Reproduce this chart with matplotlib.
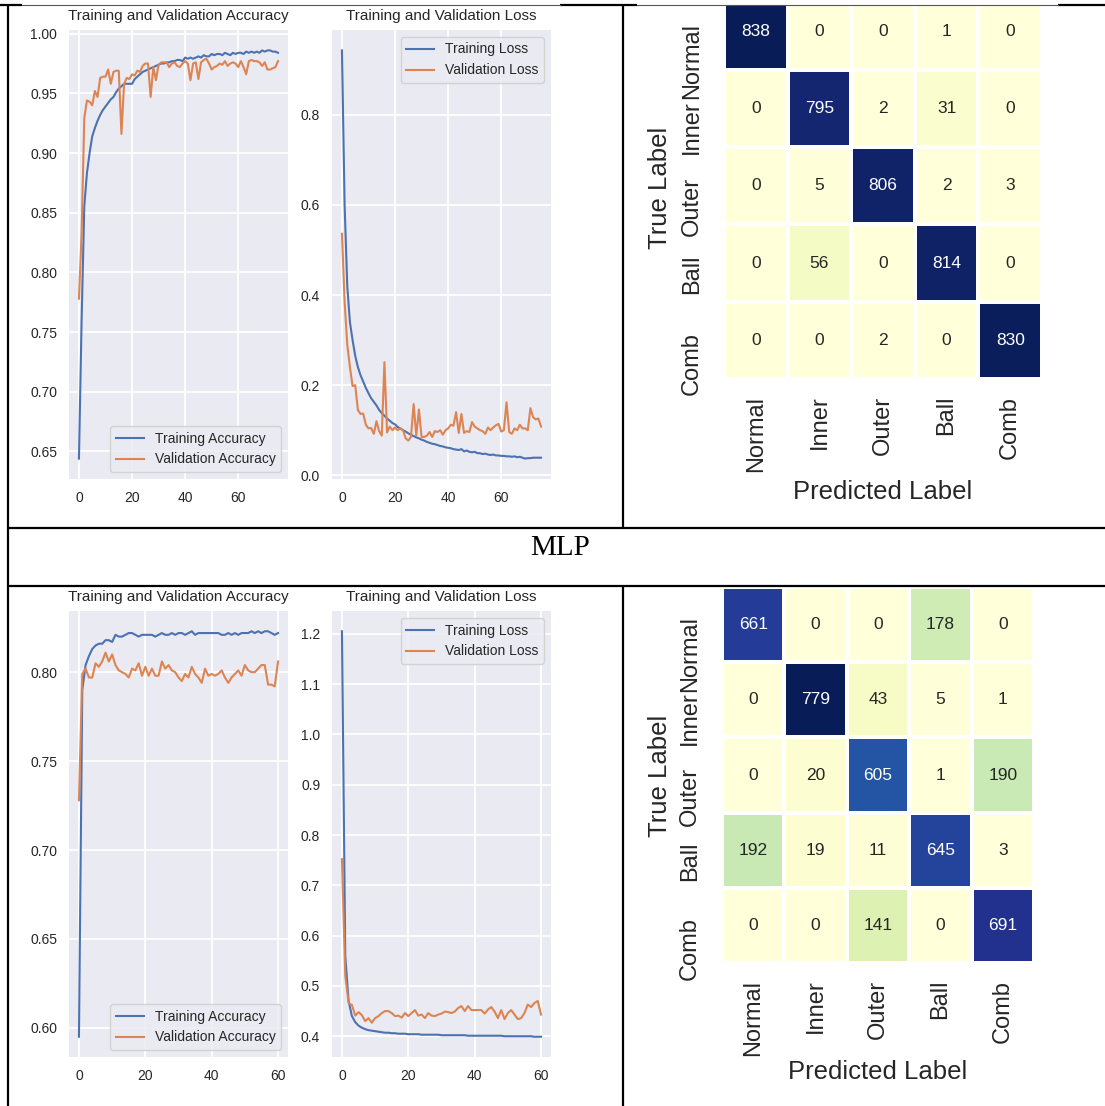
import numpy as np
import matplotlib
matplotlib.use("Agg")
import matplotlib.pyplot as plt
from matplotlib.ticker import MultipleLocator
from matplotlib import colors as mcolors
from matplotlib.patches import Rectangle

# ---------------- data ----------------
class_labels = ["Normal", "Inner", "Outer", "Ball", "Comb"]

top_train_acc = [0.644, 0.760, 0.855, 0.883, 0.900, 0.914, 0.921, 0.927, 0.932, 0.936,
                 0.939, 0.942, 0.945, 0.947, 0.951, 0.954, 0.956, 0.958, 0.958, 0.958,
                 0.958, 0.962, 0.964, 0.966, 0.968, 0.969, 0.970, 0.971, 0.972, 0.973,
                 0.974, 0.975, 0.975, 0.976, 0.976, 0.977, 0.977, 0.978, 0.978, 0.977,
                 0.980, 0.979, 0.980, 0.979, 0.980, 0.981, 0.980, 0.982, 0.981, 0.981,
                 0.983, 0.982, 0.983, 0.983, 0.982, 0.984, 0.983, 0.982, 0.984, 0.983,
                 0.984, 0.984, 0.983, 0.985, 0.984, 0.985, 0.984, 0.985, 0.984, 0.986,
                 0.985, 0.986, 0.986, 0.985, 0.985, 0.984]
top_val_acc = [0.778, 0.833, 0.929, 0.944, 0.943, 0.940, 0.952, 0.947, 0.963, 0.964,
               0.964, 0.970, 0.958, 0.968, 0.969, 0.969, 0.916, 0.958, 0.963, 0.962,
               0.966, 0.965, 0.969, 0.968, 0.973, 0.975, 0.975, 0.947, 0.972, 0.961,
               0.974, 0.976, 0.976, 0.976, 0.972, 0.975, 0.976, 0.973, 0.972, 0.975,
               0.977, 0.975, 0.961, 0.975, 0.976, 0.962, 0.976, 0.978, 0.979, 0.975,
               0.970, 0.972, 0.973, 0.975, 0.974, 0.977, 0.973, 0.975, 0.976, 0.975,
               0.972, 0.977, 0.972, 0.966, 0.977, 0.978, 0.977, 0.977, 0.976, 0.973,
               0.976, 0.970, 0.970, 0.971, 0.972, 0.977]
top_train_loss = [0.943, 0.600, 0.420, 0.340, 0.300, 0.265, 0.240, 0.222, 0.208, 0.194,
                  0.182, 0.171, 0.163, 0.155, 0.145, 0.138, 0.132, 0.126, 0.121, 0.116,
                  0.113, 0.107, 0.104, 0.100, 0.097, 0.093, 0.090, 0.087, 0.084, 0.082,
                  0.079, 0.077, 0.074, 0.072, 0.070, 0.069, 0.067, 0.065, 0.064, 0.062,
                  0.061, 0.060, 0.058, 0.057, 0.056, 0.058, 0.053, 0.055, 0.052, 0.051,
                  0.052, 0.049, 0.049, 0.047, 0.048, 0.046, 0.045, 0.046, 0.044, 0.044,
                  0.043, 0.043, 0.042, 0.042, 0.041, 0.042, 0.040, 0.041, 0.039, 0.037,
                  0.038, 0.038, 0.039, 0.039, 0.039, 0.039]
top_val_loss = [0.536, 0.385, 0.290, 0.240, 0.198, 0.200, 0.145, 0.136, 0.137, 0.112,
                0.104, 0.105, 0.092, 0.120, 0.098, 0.088, 0.251, 0.095, 0.108, 0.100,
                0.106, 0.100, 0.104, 0.100, 0.082, 0.077, 0.085, 0.158, 0.088, 0.146,
                0.085, 0.085, 0.088, 0.096, 0.085, 0.098, 0.096, 0.100, 0.090, 0.100,
                0.104, 0.112, 0.110, 0.140, 0.094, 0.136, 0.094, 0.098, 0.096, 0.118,
                0.108, 0.104, 0.100, 0.098, 0.092, 0.106, 0.100, 0.106, 0.111, 0.114,
                0.097, 0.100, 0.162, 0.096, 0.092, 0.104, 0.100, 0.112, 0.104, 0.104,
                0.100, 0.149, 0.129, 0.124, 0.126, 0.108]
top_cm = [[838, 0, 0, 1, 0],
          [0, 795, 2, 31, 0],
          [0, 5, 806, 2, 3],
          [0, 56, 0, 814, 0],
          [0, 0, 2, 0, 830]]

mlp_train_acc = [0.595, 0.790, 0.804, 0.809, 0.813, 0.815, 0.816, 0.816, 0.818, 0.818,
                 0.817, 0.821, 0.820, 0.820, 0.821, 0.822, 0.822, 0.821, 0.820, 0.821,
                 0.821, 0.821, 0.821, 0.820, 0.821, 0.822, 0.821, 0.821, 0.822, 0.821,
                 0.822, 0.822, 0.821, 0.822, 0.823, 0.821, 0.822, 0.822, 0.822, 0.822,
                 0.822, 0.822, 0.822, 0.821, 0.821, 0.822, 0.821, 0.822, 0.821, 0.822,
                 0.822, 0.822, 0.823, 0.822, 0.823, 0.822, 0.823, 0.823, 0.822, 0.821,
                 0.822]
mlp_val_acc = [0.728, 0.799, 0.802, 0.797, 0.797, 0.805, 0.803, 0.806, 0.811, 0.806,
               0.810, 0.804, 0.801, 0.800, 0.799, 0.797, 0.802, 0.801, 0.805, 0.798,
               0.803, 0.798, 0.802, 0.798, 0.798, 0.806, 0.802, 0.804, 0.801, 0.800,
               0.797, 0.795, 0.799, 0.797, 0.803, 0.799, 0.797, 0.794, 0.802, 0.798,
               0.799, 0.798, 0.799, 0.801, 0.797, 0.794, 0.797, 0.799, 0.801, 0.798,
               0.804, 0.801, 0.800, 0.800, 0.802, 0.804, 0.804, 0.793, 0.793, 0.792,
               0.806]
mlp_train_loss = [1.205, 0.560, 0.470, 0.440, 0.428, 0.421, 0.417, 0.414, 0.412, 0.411,
                  0.410, 0.409, 0.408, 0.407, 0.407, 0.406, 0.406, 0.405, 0.405, 0.405,
                  0.404, 0.404, 0.404, 0.404, 0.403, 0.403, 0.403, 0.403, 0.403, 0.403,
                  0.402, 0.402, 0.402, 0.402, 0.402, 0.402, 0.402, 0.402, 0.401, 0.401,
                  0.401, 0.401, 0.401, 0.401, 0.401, 0.401, 0.401, 0.401, 0.401, 0.400,
                  0.400, 0.400, 0.400, 0.400, 0.400, 0.400, 0.400, 0.400, 0.399, 0.399,
                  0.399]
mlp_val_loss = [0.752, 0.520, 0.466, 0.462, 0.441, 0.448, 0.442, 0.430, 0.436, 0.427,
                0.436, 0.440, 0.446, 0.450, 0.450, 0.446, 0.440, 0.441, 0.437, 0.446,
                0.440, 0.446, 0.452, 0.441, 0.443, 0.436, 0.446, 0.441, 0.440, 0.443,
                0.445, 0.449, 0.448, 0.446, 0.449, 0.456, 0.460, 0.450, 0.460, 0.452,
                0.452, 0.452, 0.452, 0.445, 0.453, 0.458, 0.449, 0.436, 0.452, 0.434,
                0.446, 0.452, 0.443, 0.434, 0.436, 0.446, 0.463, 0.458, 0.466, 0.470,
                0.443]
mlp_cm = [[661, 0, 0, 178, 0],
          [0, 779, 43, 5, 1],
          [0, 20, 605, 1, 190],
          [192, 19, 11, 645, 3],
          [0, 0, 141, 0, 691]]

section_title = "MLP"

# ---------------- figure ----------------
plt.rcParams['font.family'] = ['Liberation Sans', 'DejaVu Sans']
W, H = 1105, 1106
fig = plt.figure(figsize=(W / 100, H / 100), dpi=100)
fig.patch.set_facecolor('white')

BLUE = '#4C72B0'
ORANGE = '#DD8452'
BG = '#EAEAF2'
TXT = '#262626'


def add_ax(l, t, r, b, **kw):
    return fig.add_axes([l / W, 1 - b / H, (r - l) / W, (b - t) / H], **kw)


def line_panel(ax, a, b, la, lb, title, loc, ystep):
    x = np.arange(len(a))
    ax.set_facecolor(BG)
    for s in ax.spines.values():
        s.set_visible(False)
    ax.grid(True, color='white', lw=1.3)
    ax.set_axisbelow(True)
    ax.plot(x, a, color=BLUE, lw=1.5, label=la)
    ax.plot(x, b, color=ORANGE, lw=1.5, label=lb)
    ax.xaxis.set_major_locator(MultipleLocator(20))
    ax.yaxis.set_major_locator(MultipleLocator(ystep))
    ax.tick_params(length=0, labelsize=10, colors=TXT, pad=8.5)
    ax.set_title(title, fontsize=11, color=TXT, pad=7)
    leg = ax.legend(loc=loc, fontsize=10, frameon=True, facecolor=BG,
                    edgecolor='#CCCCCC', framealpha=0.8)
    for t in leg.get_texts():
        t.set_color(TXT)


def rel_lum(rgba):
    rgb = np.array(rgba[:3])
    rgb = np.where(rgb <= 0.03928, rgb / 12.92, ((rgb + 0.055) / 1.055) ** 2.4)
    return rgb.dot([0.2126, 0.7152, 0.0722])


def cm_panel(ax, cm, labels):
    cm = np.array(cm)
    n = cm.shape[0]
    cmap = plt.get_cmap('YlGnBu')
    norm = mcolors.Normalize(vmin=cm.min(), vmax=cm.max())
    ax.pcolormesh(np.arange(n + 1), np.arange(n + 1), cm, cmap=cmap, norm=norm,
                  edgecolors='white', linewidth=1.5)
    ax.set_xlim(0, n)
    ax.set_ylim(n, 0)
    for i in range(n):
        for j in range(n):
            c = cmap(norm(cm[i, j]))
            tc = TXT if rel_lum(c) > 0.408 else 'white'
            ax.text(j + 0.5, i + 0.5, str(cm[i, j]), ha='center', va='center',
                    fontsize=12.5, color=tc)
    ax.set_xticks(np.arange(n) + 0.5)
    ax.set_xticklabels(labels, rotation=90, fontsize=17, color=TXT)
    ax.set_yticks(np.arange(n) + 0.5)
    ax.set_yticklabels(labels, rotation=90, fontsize=17, color=TXT)
    ax.tick_params(axis='x', length=0, pad=12)
    ax.tick_params(axis='y', length=0, pad=15)
    for s in ax.spines.values():
        s.set_visible(False)


# top row
ax1 = add_ax(69, 30, 288, 479)
line_panel(ax1, top_train_acc, top_val_acc, 'Training Accuracy', 'Validation Accuracy',
           'Training and Validation Accuracy', 'lower right', 0.05)
ax2 = add_ax(332, 30, 551, 479)
line_panel(ax2, top_train_loss, top_val_loss, 'Training Loss', 'Validation Loss',
           'Training and Validation Loss', 'upper right', 0.2)
ax3 = add_ax(724, -7.5, 1042, 379)
cm_panel(ax3, top_cm, class_labels)
fig.text(660 / W, 1 - 188 / H, 'True Label', rotation=90, ha='center', va='center',
         fontsize=18.5, color=TXT)
fig.text(883 / W, 1 - 492 / H, 'Predicted Label', ha='center', va='center',
         fontsize=18.5, color=TXT)

# bottom row
ax4 = add_ax(69, 611, 288, 1057)
line_panel(ax4, mlp_train_acc, mlp_val_acc, 'Training Accuracy', 'Validation Accuracy',
           'Training and Validation Accuracy', 'lower right', 0.05)
ax5 = add_ax(332, 611, 551, 1057)
line_panel(ax5, mlp_train_loss, mlp_val_loss, 'Training Loss', 'Validation Loss',
           'Training and Validation Loss', 'upper right', 0.1)
ax6 = add_ax(722, 587, 1034, 963)
cm_panel(ax6, mlp_cm, class_labels)
fig.text(660 / W, 1 - 776 / H, 'True Label', rotation=90, ha='center', va='center',
         fontsize=18.5, color=TXT)
fig.text(878 / W, 1 - 1072 / H, 'Predicted Label', ha='center', va='center',
         fontsize=18.5, color=TXT)

# section title
fig.text(560 / W, 1 - 548 / H, section_title, ha='center', va='center',
         fontsize=21, family='Liberation Serif', color='black')

# table rules (layout decoration in pixel space)
ov = fig.add_axes([0, 0, 1, 1], zorder=10)
ov.set_xlim(0, W)
ov.set_ylim(H, 0)
ov.axis('off')
ov.patch.set_alpha(0)
ov.add_patch(Rectangle((624, 0), W - 624, 5, facecolor='white', edgecolor='none'))
k = dict(color='black', lw=1.6, solid_capstyle='butt')
g = dict(color='#555555', lw=0.8)
ov.plot([0, 22], [5, 5], **k)
ov.plot([560, 637], [5, 5], **k)
ov.plot([1058, W], [5, 5], **k)
ov.plot([22, 560], [5, 5], **g)
ov.plot([637, 1058], [5, 5], **g)
ov.plot([8, 8], [5, H], **k)
ov.plot([623, 623], [5, 528], **k)
ov.plot([623, 623], [586, H], **k)
ov.plot([8, W], [528, 528], **k)
ov.plot([8, W], [586, 586], **k)

fig.savefig('out.png', dpi=100, facecolor='white')
